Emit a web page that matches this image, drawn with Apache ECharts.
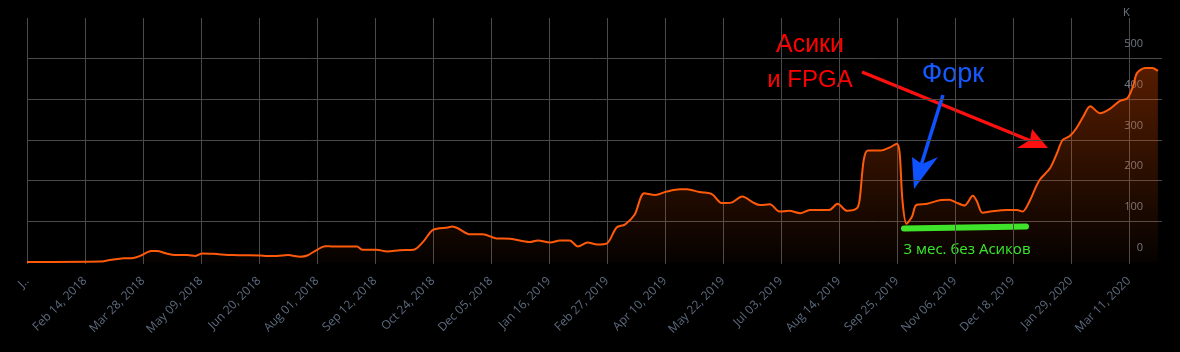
<!DOCTYPE html>
<html>
<head>
<meta charset="utf-8">
<script src="https://cdn.jsdelivr.net/npm/echarts@6/dist/echarts.min.js"></script>
<style>
html,body{margin:0;padding:0;background:#000;}
#chart{width:1180px;height:352px;}
</style>
</head>
<body>
<div id="chart"></div>
<script>
const dates = [
 '2018-01-03','2018-02-25','2018-03-04','2018-03-14','2018-03-21','2018-03-26','2018-04-03','2018-04-07',
 '2018-04-14','2018-04-20','2018-04-29','2018-05-05','2018-05-10','2018-05-18','2018-06-01','2018-06-21',
 '2018-06-26','2018-07-03','2018-07-11','2018-07-20','2018-07-25','2018-08-01','2018-08-07','2018-08-13',
 '2018-08-30','2018-09-03','2018-09-13','2018-09-21','2018-09-30','2018-10-10','2018-10-17','2018-10-24',
 '2018-11-04','2018-11-07','2018-11-11','2018-11-20','2018-11-29','2018-12-09','2018-12-19','2019-01-02',
 '2019-01-08','2019-01-17','2019-01-24','2019-01-31','2019-02-06','2019-02-13','2019-02-20','2019-02-27',
 '2019-03-06','2019-03-12','2019-03-19','2019-03-26','2019-04-03','2019-04-11','2019-04-21','2019-04-26',
 '2019-05-05','2019-05-14','2019-05-21','2019-05-28','2019-06-05','2019-06-13','2019-06-18','2019-06-25',
 '2019-07-02','2019-07-09','2019-07-17','2019-07-24','2019-08-07','2019-08-13','2019-08-20','2019-08-27',
 '2019-08-29','2019-09-01','2019-09-04','2019-09-13','2019-09-20','2019-09-25','2019-09-27','2019-09-29',
 '2019-10-02','2019-10-06','2019-10-09','2019-10-17','2019-10-26','2019-11-02','2019-11-07','2019-11-13',
 '2019-11-19','2019-11-22','2019-11-26','2019-12-03','2019-12-14','2019-12-21','2019-12-25','2019-12-30',
 '2020-01-06','2020-01-14','2020-01-19','2020-01-23','2020-01-28','2020-02-02','2020-02-07','2020-02-12',
 '2020-02-19','2020-02-26','2020-03-04','2020-03-10','2020-03-14','2020-03-17','2020-03-23','2020-03-28',
 '2020-04-01'
];
// Hashrate, thousands (K)
const hashrateK = [
 0,1,5,9,10,15,27,27,
 21,17,17,15,21,20,17,16,
 15,15,17,13,16,30,39,38,
 38,30,30,26,29,30,50,79,
 85,87,83,68,68,58,57,49,
 53,48,53,53,38,48,43,46,
 85,92,116,169,165,173,179,179,
 172,167,145,146,161,146,140,142,
 124,126,120,128,128,143,126,132,
 153,251,274,274,282,291,268,153,
 94,112,140,143,152,153,146,139,
 163,149,121,125,128,128,124,149,
 200,231,268,300,309,329,358,383,
 366,376,395,403,432,465,477,477,
 470
];
const yTicks = [0,100,200,300,400,500,600];
const monthNames = ['Jan','Feb','Mar','Apr','May','Jun','Jul','Aug','Sep','Oct','Nov','Dec'];
const startDate = '2018-01-03';   // first x tick
const tickStepDays = 42;          // x tick interval
const endDay = 822;               // right edge of the plot, days after start

function toMs(s){ const p = s.split('-'); return Date.UTC(+p[0], +p[1]-1, +p[2]); }
const t0 = toMs(startDate);
function dayOf(s){ return Math.round((toMs(s) - t0) / 86400000); }
function fmtDay(d){
  const dt = new Date(t0 + d*86400000);
  const dd = String(dt.getUTCDate()).padStart(2,'0');
  return monthNames[dt.getUTCMonth()] + ' ' + dd + ', ' + dt.getUTCFullYear();
}
const seriesData = dates.map((d,i) => [dayOf(d), hashrateK[i]]);

const chart = echarts.init(document.getElementById('chart'), null, {renderer:'canvas'});
const gridColor = '#4a4a4a';
const option = {
  backgroundColor: '#000000',
  animation: false,
  grid: {left: 27, right: 18, top: 18, bottom: 90, containLabel: false, outerBoundsMode: 'none'},
  xAxis: {
    type: 'value', min: 0, max: endDay, interval: tickStepDays,
    axisLine: {show: false},
    axisTick: {show: true, length: 2, lineStyle: {color: gridColor}},
    splitLine: {show: true, showMaxLine: false, lineStyle: {color: gridColor, width: 1}},
    axisLabel: {
      rotate: 45, margin: 17, color: '#5d6b7e', fontSize: 12, fontFamily: 'Open Sans',
      showMaxLabel: false,
      formatter: v => v === 0 ? 'J..' : (v % tickStepDays === 0 ? fmtDay(v) : '')
    }
  },
  yAxis: {
    type: 'value', position: 'right', min: yTicks[0], max: yTicks[yTicks.length-1], interval: 100,
    axisLine: {show: false}, axisTick: {show: false},
    splitLine: {show: true, showMinLine: false, showMaxLine: false, lineStyle: {color: gridColor, width: 1}},
    axisLabel: {
      inside: true, margin: 19, color: '#6f7782', fontSize: 11, fontFamily: 'Open Sans',
      verticalAlign: 'bottom', lineHeight: 11, padding: [0,0,9,0], showMaxLabel: false,
      formatter: v => (v >= 600 ? '' : String(v))
    }
  },
  series: [{
    type: 'line', data: seriesData, smooth: 0.3, showSymbol: false,
    lineStyle: {color: '#ff5a0a', width: 2},
    areaStyle: {
      color: new echarts.graphic.LinearGradient(0,0,0,1,[
        {offset: 0, color: 'rgba(255,85,0,0.48)'},
        {offset: 1, color: 'rgba(255,85,0,0.03)'}
      ])
    }
  }],
  graphic: [
    {type:'text', left: 1128 - 5, top: 7, style:{text:'K', fill:'#6f7782', font:'11px "Open Sans"'}},
    // red annotation
    {type:'text', x: 810, y: 45, style:{text:'Асики', fill:'#ff0000', font:'25px "Liberation Sans"', align:'center', verticalAlign:'middle'}},
    {type:'text', x: 810, y: 80, style:{text:'и FPGA', fill:'#ff0000', font:'24px "Liberation Sans"', align:'center', verticalAlign:'middle'}},
    {type:'line', shape:{x1: 862, y1: 72, x2: 1036, y2: 143}, style:{stroke:'#ff1010', lineWidth: 3.5}},
    {type:'polygon', shape:{points:[[1048,148],[1017,148],[1030,140],[1032,129]]}, style:{fill:'#ff1010'}},
    // blue annotation
    {type:'text', x: 953, y: 75, style:{text:'Форк', fill:'#1659ff', font:'27px "Liberation Sans"', align:'center', verticalAlign:'middle'}},
    {type:'line', shape:{x1: 943, y1: 95, x2: 919, y2: 172}, style:{stroke:'#0f52ff', lineWidth: 3.5}},
    {type:'polygon', shape:{points:[[914,189],[912,157],[922,164],[938,157]]}, style:{fill:'#0f52ff'}},
    // green annotation
    {type:'line', shape:{x1: 904, y1: 228.5, x2: 1026, y2: 226.5}, style:{stroke:'#2ef02e', lineWidth: 6, lineCap:'round'}},
    {type:'text', x: 967, y: 250, style:{text:'3 мес. без Асиков', fill:'#2ef02e', font:'15px "Open Sans"', align:'center', verticalAlign:'middle'}}
  ]
};
chart.setOption(option);
</script>
</body>
</html>
